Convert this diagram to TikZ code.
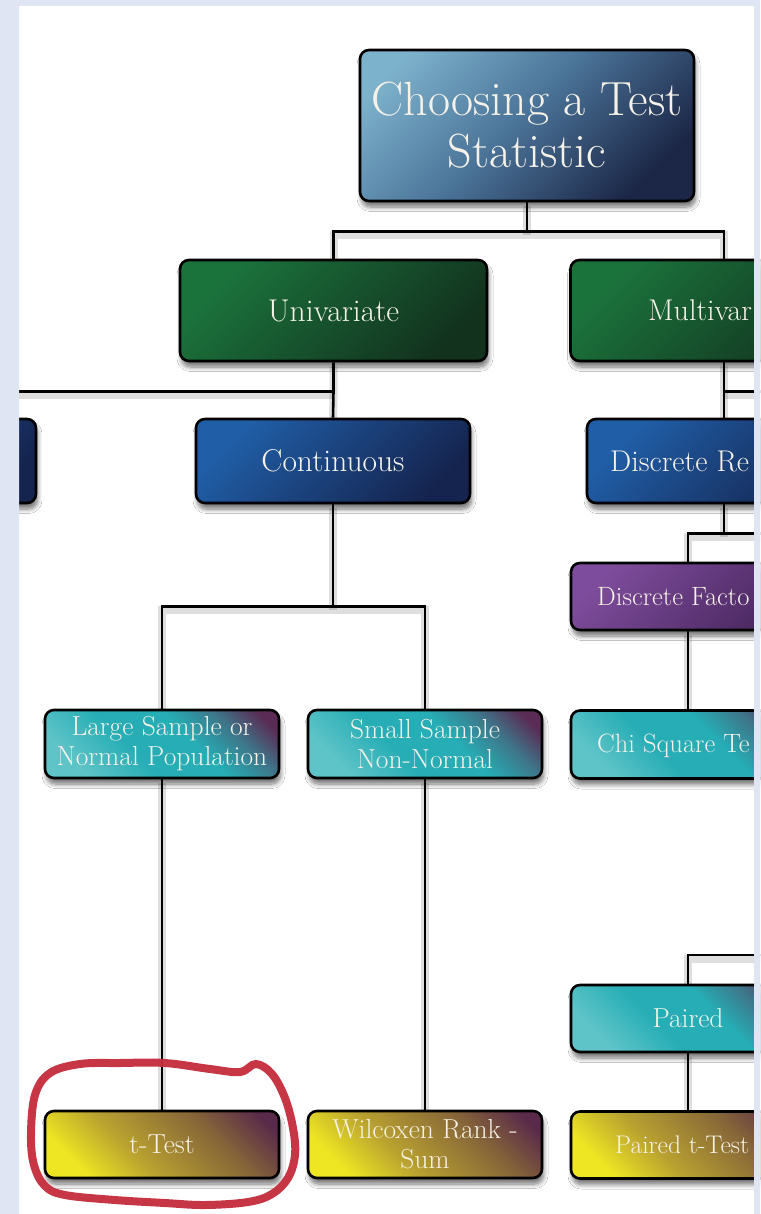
\documentclass[tikz,border=0pt]{standalone}
\usepackage{fontspec}
\usetikzlibrary{shadows.blur,backgrounds}
\definecolor{framecol}{HTML}{DFE5F2}
\definecolor{txtcol}{HTML}{F6F2E8}
\definecolor{ti1}{HTML}{7DB2CC}
\definecolor{tim}{HTML}{4A7398}
\definecolor{ti2}{HTML}{1C2747}
\definecolor{gr1}{HTML}{1B733C}
\definecolor{gr2}{HTML}{12321E}
\definecolor{bl1}{HTML}{205FA8}
\definecolor{bl2}{HTML}{15244F}
\definecolor{pu1}{HTML}{7E4C9C}
\definecolor{pu2}{HTML}{4A2860}
\definecolor{tA}{HTML}{5EC4C8}
\definecolor{tB}{HTML}{26ADB5}
\definecolor{tC}{HTML}{3E7488}
\definecolor{tD}{HTML}{5A2C55}
\definecolor{yA}{HTML}{EEE622}
\definecolor{yB}{HTML}{B8A030}
\definecolor{yC}{HTML}{866638}
\definecolor{yD}{HTML}{5A2A4A}
\definecolor{loopred}{HTML}{C42C3C}
\pgfdeclareverticalshading{tealsh}{100bp}{color(0bp)=(tA); color(25bp)=(tA); color(42bp)=(tB); color(58bp)=(tB); color(70bp)=(tC); color(80bp)=(tD); color(100bp)=(tD)}
\pgfdeclareverticalshading{yelsh}{100bp}{color(0bp)=(yA); color(25bp)=(yA); color(42bp)=(yB); color(64bp)=(yC); color(80bp)=(yD); color(100bp)=(yD)}
\pgfdeclareverticalshading{titlesh}{100bp}{color(0bp)=(ti2); color(25bp)=(ti2); color(52bp)=(tim); color(78bp)=(ti1); color(100bp)=(ti1)}
\tikzset{
  box/.style={draw=black, line width=2.6pt, rounded corners=9pt, text=txtcol, align=center, inner sep=0pt,
    blur shadow={shadow xshift=1.5pt, shadow yshift=-6pt, shadow blur radius=4.5pt, shadow blur steps=8, shadow opacity=55}},
  titlebox/.style={box, minimum width=334pt, minimum height=151pt, shade, shading=titlesh, shading angle=45, font=\fontsize{48}{52}\selectfont},
  greenbox/.style={box, minimum width=307pt, minimum height=101pt, top color=gr1, bottom color=gr2, shading angle=45, font=\fontsize{31.5}{36}\selectfont},
  bluebox/.style={box, minimum width=274pt, minimum height=84pt, top color=bl1, bottom color=bl2, shading angle=45, font=\fontsize{31.5}{36}\selectfont},
  purplebox/.style={box, minimum width=234pt, minimum height=67pt, top color=pu1, bottom color=pu2, shading angle=45, font=\fontsize{28}{30}\selectfont},
  tealbox/.style={box, minimum width=234pt, minimum height=68pt, shade, shading=tealsh, shading angle=-45, font=\fontsize{27.5}{30}\selectfont},
  yelbox/.style={box, minimum width=234pt, minimum height=67pt, shade, shading=yelsh, shading angle=-45, font=\fontsize{27.5}{30}\selectfont},
  conn/.style={line width=2.6pt, draw=black, preaction={draw=black, opacity=0.13, line width=8pt, transform canvas={yshift=-4pt}}},
  lbl/.style={text=txtcol, inner sep=0pt, anchor=base west},
}
\begin{document}
\begin{tikzpicture}[x=1pt,y=-1pt]
\useasboundingbox (0,0) rectangle (760,1214);
\clip (0,0) rectangle (760,1214);
% nodes
\node[titlebox] (title) at (527,125.5) {Choosing a Test\\Statistic};
\node[greenbox] (univ) at (333.5,310.5) {Univariate};
\node[greenbox] (multi) at (724,310.5) {};
\node[lbl, font=\fontsize{30}{36}\selectfont] (multit) at (648,320) {Multivar};
\node[bluebox] (disc) at (-101,461) {};
\node[bluebox] (cont) at (333,461) {Continuous};
\node[bluebox] (discr) at (724,461) {};
\node[lbl, font=\fontsize{30}{36}\selectfont] (discrt) at (610,471) {Discrete Re};
\node[tealbox] (large) at (162,744) {Large Sample or\\Normal Population};
\node[tealbox] (small) at (425,744) {Small Sample\\Non-Normal};
\node[purplebox] (discfac) at (688,596.5) {};
\node[lbl, font=\fontsize{26.5}{30}\selectfont] (discfact) at (597,605) {Discrete Facto};
\node[tealbox] (chi) at (688,744.5) {};
\node[lbl, font=\fontsize{26.5}{30}\selectfont] (chit) at (597,752) {Chi Square Te};
\node[tealbox, minimum height=67pt] (paired) at (688,1018.5) {Paired};
\node[yelbox] (ttest) at (162,1144.5) {t-Test};
\node[yelbox] (wilc) at (425,1144.5) {Wilcoxen Rank -\\Sum};
\node[yelbox] (pairedt) at (688,1145) {};
\node[lbl, font=\fontsize{25.5}{30}\selectfont] (pairedtt) at (615,1153) {Paired t-Test};
\coordinate (r1) at (790,390);
\coordinate (r2) at (790,532);
\coordinate (r3) at (790,955);
% connectors
\begin{pgfonlayer}{background}
\clip (0,0) rectangle (760,1214);
\fill[white] (0,0) rectangle (760,1214);
\draw[conn] (title.south) -- ++(0,29) coordinate (j1);
\draw[conn] (univ.north) |- (j1) -| (multi.north);
\draw[conn] (univ.south) -- ++(0,29) coordinate (j2) -- (cont.north);
\draw[conn] (j2) -| (disc.north);
\draw[conn] (multi.south) -- ++(0,29) coordinate (j3) -- (discr.north);
\draw[conn] (j3) -- (j3 -| r1);
\draw[conn] (cont.south) -- ++(0,102) coordinate (j4);
\draw[conn] (large.north) |- (j4) -| (small.north);
\draw[conn] (discr.south) -- ++(0,29) coordinate (j5);
\draw[conn] (discfac.north) |- (j5) -- (j5 -| r2);
\draw[conn] (discfac.south) -- (chi.north);
\draw[conn] (large.south) -- (ttest.north);
\draw[conn] (small.south) -- (wilc.north);
\draw[conn] (paired.north) |- (r3);
\draw[conn] (paired.south) -- (pairedt.north);
\end{pgfonlayer}
% frame
\fill[framecol, even odd rule] (0,0) rectangle (760,1214) (19,6) rectangle (754,1214);
% red hand-drawn loop
\draw[loopred, line width=8pt, line cap=round, line join=round, opacity=0.95]
  plot[smooth cycle, tension=0.6] coordinates {
  (165,1063) (210,1069) (240,1072) (256,1064) (272,1074) (285,1098) (293,1128) (295,1155)
  (288,1178) (272,1194) (248,1202) (205,1205) (165,1203) (115,1200) (65,1195) (45,1186)
  (34,1165) (31,1135) (35,1095) (50,1073) (80,1064) (120,1063)};
\end{tikzpicture}
\end{document}
